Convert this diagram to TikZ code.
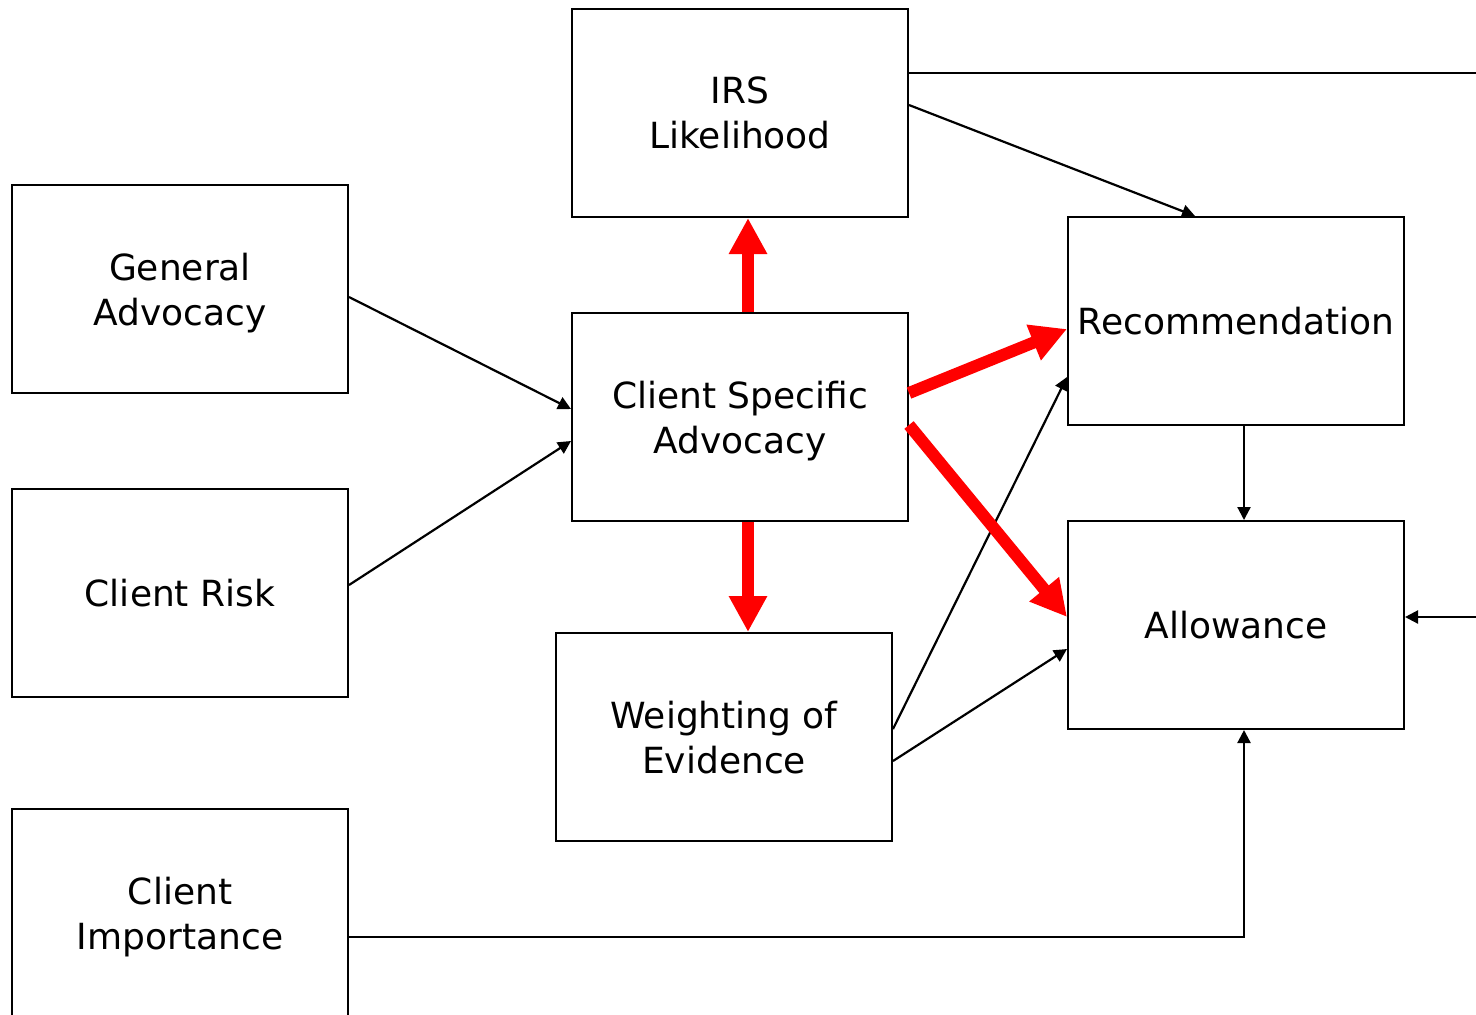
\documentclass[tikz,border=0pt]{standalone}
\usepackage{fontspec}
\setmainfont{DejaVu Sans}
\usetikzlibrary{arrows.meta}

\begin{document}
\begin{tikzpicture}[x=0.5pt,y=-0.5pt,
  blk/.style={draw,line width=1pt,minimum width=168pt,minimum height=104pt,
    inner sep=0pt,align=center,text depth=0pt,font=\fontsize{18}{22.5}\selectfont},
  thin/.style={line width=1.1pt,-{Triangle[length=6.5pt,width=6.5pt]}},
  hot/.style={red,line width=6pt,-{Triangle[length=18pt,width=18pt]}}]
  \useasboundingbox (0,0) rectangle (1476,1014);
  \clip (0,0) rectangle (1476,1014);

  % boxes
  \node[blk] (irs) at (740,113) {IRS\\Likelihood};
  \node[blk] (genadv) at (180,289) {General\\Advocacy};
  \node[blk] (csa) at (740,417) {Client Specific\\Advocacy};
  \node[blk] (rec) at (1236,321) {Recommendation};
  \node[blk] (risk) at (180,593) {Client Risk};
  \node[blk] (allow) at (1236,625) {Allowance};
  \node[blk] (woe) at (724,737) {Weighting of\\Evidence};
  \node[blk] (imp) at (180,913) {Client\\Importance};
  \coordinate (irsout) at (1476,73);
  \coordinate (allowin) at (1476,617);

  % black links
  \draw[line width=1.1pt] ([yshift=20pt]irs.east) -- (irsout);
  \draw[thin] ([yshift=4pt]irs.east) -- ([xshift=-20.5pt]rec.north);
  \draw[thin] ([yshift=-4pt]genadv.east) -- ([yshift=4pt]csa.west);
  \draw[thin] ([yshift=4pt]risk.east) -- ([yshift=-12pt]csa.west);
  \draw[thin] ([yshift=4pt]woe.east) -- ([yshift=-28pt]rec.west);
  \draw[thin] ([yshift=-12pt]woe.east) -- ([yshift=-12pt]allow.west);
  \draw[thin] ([xshift=4pt]rec.south) -- ([xshift=4pt]allow.north);
  \draw[thin] (allowin) -- ([yshift=4pt]allow.east);
  \draw[thin] ([yshift=-12pt]imp.east) -| ([xshift=4pt]allow.south);

  % red links
  \draw[hot] ([xshift=4pt]csa.north) -- ([xshift=4pt]irs.south);
  \draw[hot] ([xshift=4pt]csa.south) -- ([xshift=12pt]woe.north);
  \draw[hot] ([yshift=12pt]csa.east) -- ([yshift=-4pt]rec.west);
  \draw[hot] ([yshift=-4pt]csa.east) -- ([yshift=4pt]allow.west);
\end{tikzpicture}
\end{document}
